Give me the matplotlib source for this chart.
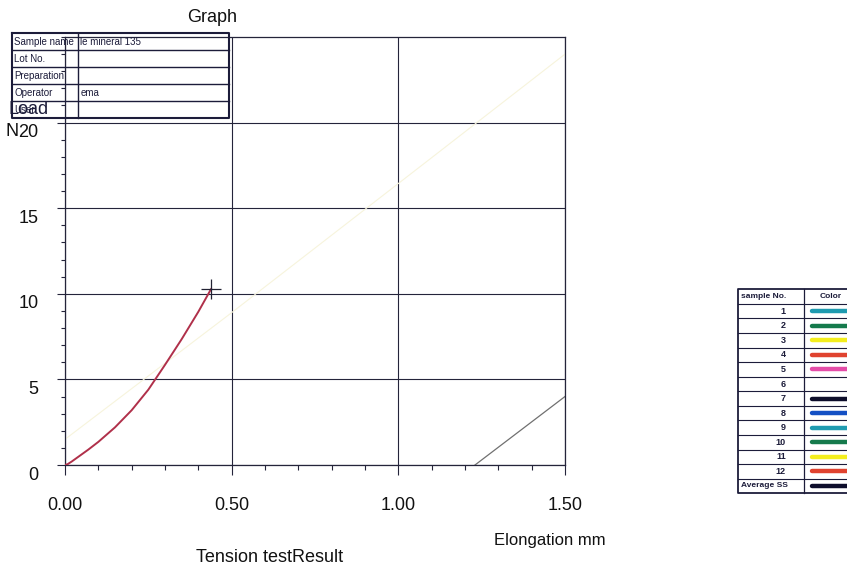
import matplotlib
matplotlib.use('Agg')
import matplotlib.pyplot as plt
from matplotlib.ticker import MultipleLocator
from matplotlib.transforms import ScaledTranslation

plt.rcParams['font.family'] = ['Liberation Sans', 'DejaVu Sans']

# ---------------- data ----------------
curve_x = [0.000, 0.008, 0.020, 0.040, 0.070, 0.100, 0.150, 0.200, 0.250, 0.300, 0.350, 0.400, 0.438]
curve_y = [0.00, 0.05, 0.20, 0.48, 0.90, 1.35, 2.20, 3.20, 4.40, 5.85, 7.35, 8.95, 10.27]
break_x = [0.438]
break_y = [10.27]
yellow_x = [0.0, 0.5, 1.09, 1.5]
yellow_y = [1.5, 8.9, 17.8, 24.0]
gray_x = [1.23, 1.5]
gray_y = [0.0, 4.0]

x_ticks = [0.0, 0.5, 1.0, 1.5]
x_tick_labels = ['0.00', '0.50', '1.00', '1.50']
y_ticks = [0, 5, 10, 15, 20]
y_tick_labels = ['0', '5', '10', '15', '20']

info_fields = ['Sample name', 'Lot No.', 'Preparation', 'Operator', 'User']
info_values = ['le mineral 135', '', '', 'ema', '']

sample_labels = ['1', '2', '3', '4', '5', '6', '7', '8', '9', '10', '11', '12', 'Average SS']
sample_colors = ['#1f9bb0', '#157a4c', '#f4ee1e', '#e0432f', '#e44ca8', None,
                 '#0d0d2b', '#1450c4', '#1f9bb0', '#157a4c', '#f4ee1e', '#e0432f', '#0d0d2b']

INK = '#1c1c3a'

fig = plt.figure(figsize=(8.47, 5.70), dpi=100)
W, H = 847, 570
ax = fig.add_axes([65 / W, 1 - 465 / H, 500 / W, 428 / H])
ax.set_xlim(0, 1.5)
ax.set_ylim(0, 25)

ax.plot(yellow_x, yellow_y, color='#f7f4dc', lw=0.8, zorder=2)
ax.plot(gray_x, gray_y, color='#707070', lw=0.9, zorder=2)
ax.plot(curve_x, curve_y, color='#b0304a', lw=1.4, zorder=3)
ax.plot(break_x, break_y, marker='+', ms=15, mew=0.9, color='#222233', ls='none', zorder=4)

ax.set_xticks(x_ticks)
ax.set_xticklabels(x_tick_labels)
ax.xaxis.set_minor_locator(MultipleLocator(0.1))
ax.set_yticks(y_ticks)
ax.set_yticklabels(y_tick_labels)
ax.yaxis.set_minor_locator(MultipleLocator(1))
ax.grid(True, which='major', color='#24243a', lw=0.8)
ax.tick_params(axis='x', which='major', direction='out', length=7, width=0.8, pad=16,
               labelsize=13, color='#24243a', labelcolor='#111')
ax.tick_params(axis='x', which='minor', direction='out', length=3.5, width=0.8, color='#24243a')
ax.tick_params(axis='y', which='major', direction='out', length=6, width=0.8, pad=13,
               labelsize=13, color='#24243a', labelcolor='#111')
ax.tick_params(axis='y', which='minor', direction='out', length=3, width=0.8, color='#24243a')
for sp in ax.spines.values():
    sp.set_color('#24243a')
    sp.set_linewidth(0.9)
off = ScaledTranslation(0, -8 / 100, fig.dpi_scale_trans)
for lbl in ax.get_yticklabels():
    lbl.set_transform(lbl.get_transform() + off)

# ---------------- overlay (pixel coords) ----------------
ov = fig.add_axes([0, 0, 1, 1], zorder=5)
ov.set_xlim(0, W)
ov.set_ylim(H, 0)
ov.axis('off')
ov.patch.set_alpha(0)

ov.text(212, 18, 'Graph', ha='center', va='center', fontsize=13, color='#111')
ov.text(550, 540, 'Elongation mm', ha='center', va='center', fontsize=12, color='#111')
ov.text(270, 557, 'Tension testResult', ha='center', va='center', fontsize=13, color='#111')
ov.text(29, 109, 'Load', ha='center', va='center', fontsize=13, color=INK)
ov.text(12, 131, 'N', ha='center', va='center', fontsize=13, color='#111')

# info table
tx0, txm, tx1 = 11.7, 77.7, 229.0
ttop, trh = 33.3, 17.0
n = len(info_fields)
tbot = ttop + n * trh
ov.plot([tx0, tx1, tx1, tx0, tx0], [ttop, ttop, tbot, tbot, ttop], color=INK, lw=1.5)
ov.plot([txm, txm], [ttop, tbot], color=INK, lw=1.0)
for i in range(1, n):
    yy = ttop + i * trh
    ov.plot([tx0, tx1], [yy, yy], color=INK, lw=1.0)
for i, (f, v) in enumerate(zip(info_fields, info_values)):
    yc = ttop + (i + 0.5) * trh
    ov.text(tx0 + 2.5, yc, f, ha='left', va='center', fontsize=7, color=INK)
    ov.text(txm + 2.5, yc, v, ha='left', va='center', fontsize=7, color=INK)

# legend table
lx0, lxm, lx1 = 738.3, 804.0, 870.0
ltop, lrh = 289.3, 14.57
rows = len(sample_labels) + 1
lbot = ltop + rows * lrh
ov.plot([lx1, lx0, lx0, lx1], [ltop, ltop, lbot, lbot], color=INK, lw=1.3, clip_on=False)
ov.plot([lxm, lxm], [ltop, lbot], color=INK, lw=0.9)
for i in range(1, rows):
    yy = ltop + i * lrh
    ov.plot([lx0, lx1], [yy, yy], color=INK, lw=0.8)
yc = ltop + 0.5 * lrh
ov.text(lx0 + 2.5, yc, 'sample No.', ha='left', va='center', fontsize=6, fontweight='bold', color=INK)
ov.text(831, yc, 'Color', ha='center', va='center', fontsize=6, fontweight='bold', color=INK)
for i, (lab, c) in enumerate(zip(sample_labels, sample_colors)):
    yc = ltop + (i + 1.5) * lrh
    if lab.isdigit():
        ov.text(786, yc, lab, ha='right', va='center', fontsize=6.5, fontweight='bold', color=INK)
    else:
        ov.text(lx0 + 2.5, yc, lab, ha='left', va='center', fontsize=6, fontweight='bold', color=INK)
    if c is not None:
        ov.plot([812, 860], [yc, yc], color=c, lw=3.2, solid_capstyle='round')

fig.savefig('out.png', dpi=100)
